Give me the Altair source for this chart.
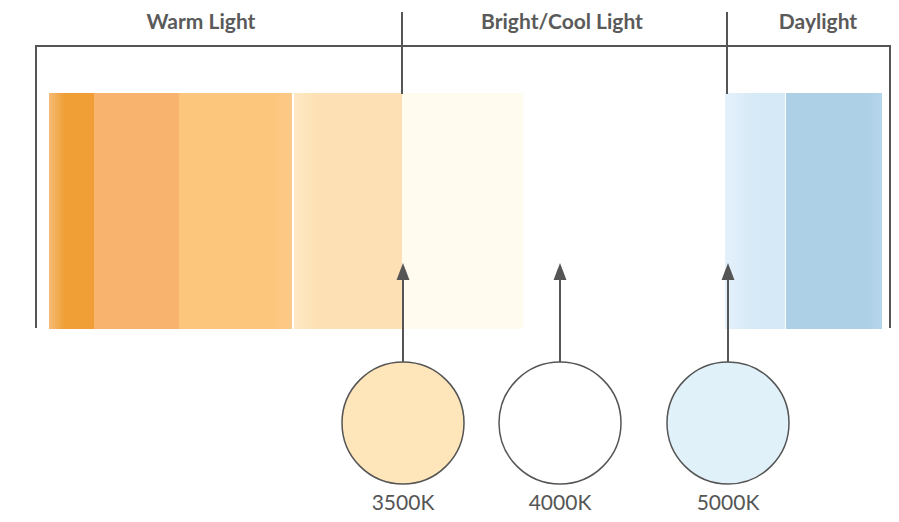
import altair as alt
import pandas as pd

# ---- data (diagram units = pixels) ----
band_x0 = [49, 94, 179, 294, 402, 725, 786]
band_x1 = [94, 179, 292, 402, 523, 785, 882]
band_left = ["#F5BC76", "#F8B46E", "#FCC67D", "#FEE8C4", "#FFFCEF", "#E4F1FB", "#AED0E7"]
band_main = ["#EF9F35", "#F8B46E", "#FCC67D", "#FDE1B4", "#FFFCEF", "#D6E9F6", "#AED0E7"]
band_right = ["#EF9F35", "#F8B46E", "#FCCA88", "#FDE1B4", "#FFFCEF", "#D6E9F6", "#B5D5EA"]
band_split = [0.35, 0.0, 0.85, 0.2, 0.0, 0.5, 0.85]
band_top, band_bottom = 93, 329

group_labels = ["Warm Light", "Bright/Cool Light", "Daylight"]
group_x = [201, 562, 818]
divider_x = [402, 727]

temps = ["3500K", "4000K", "5000K"]
temp_x = [403, 560, 728]
temp_fill = ["#FEE6BA", "#FFFFFF", "#E1F1FA"]

INK = "#555555"
FONT = "Lato"

X = alt.Scale(domain=[8, 891])
Y = alt.Scale(domain=[514, 8])


def xe(f="x"):
    return alt.X(f"{f}:Q", scale=X, axis=None)


def ye(f="y"):
    return alt.Y(f"{f}:Q", scale=Y, axis=None)


layers = []

# colour bands
for i in range(len(band_x0)):
    stops = [alt.GradientStop(color=band_left[i], offset=0)]
    if band_split[i] > 0:
        stops.append(alt.GradientStop(color=band_main[i], offset=band_split[i]))
    stops.append(alt.GradientStop(color=band_right[i], offset=1))
    df = pd.DataFrame({"x": [band_x0[i]], "x2": [band_x1[i]], "y": [band_top], "y2": [band_bottom]})
    layers.append(
        alt.Chart(df).mark_rect(
            fill=alt.LinearGradient(gradient="linear", stops=stops, x1=0, x2=1, y1=0, y2=0),
            strokeWidth=0,
        ).encode(x=xe(), x2="x2:Q", y=ye(), y2="y2:Q")
    )

# bracket and dividers
segs = pd.DataFrame({
    "x": [36, 36, 890] + divider_x,
    "x2": [890, 36, 890] + divider_x,
    "y": [46, 46, 46, 13, 13],
    "y2": [46, 327, 327, 93, 93],
})
layers.append(
    alt.Chart(segs).mark_rule(color=INK, strokeWidth=2, strokeCap="square")
    .encode(x=xe(), x2="x2:Q", y=ye(), y2="y2:Q")
)

# arrows
arr = pd.DataFrame({"x": temp_x, "y": [272] * 3, "y2": [362] * 3, "yh": [271.5] * 3})
layers.append(
    alt.Chart(arr).mark_rule(color=INK, strokeWidth=2)
    .encode(x=xe(), y=ye(), y2="y2:Q")
)
layers.append(
    alt.Chart(arr).mark_point(
        shape="M0,-1L0.76,1L-0.76,1Z", size=289, filled=True, fill=INK, opacity=1
    ).encode(x=xe(), y=ye("yh"))
)

# circles
circ = pd.DataFrame({"x": temp_x, "y": [423] * 3, "fill": temp_fill})
layers.append(
    alt.Chart(circ).mark_point(
        shape="circle", size=122 * 122, filled=True, stroke=INK, strokeWidth=1.5, opacity=1
    ).encode(x=xe(), y=ye(), fill=alt.Fill("fill:N", scale=None))
)

# labels
lab = pd.DataFrame({"x": temp_x, "y": [514] * 3, "label": temps})
layers.append(
    alt.Chart(lab).mark_text(
        font=FONT, fontSize=21, fontWeight="normal", color=INK, baseline="bottom", align="center"
    ).encode(x=xe(), y=ye(), text="label:N")
)
glab = pd.DataFrame({"x": group_x, "y": [29] * 3, "label": group_labels})
layers.append(
    alt.Chart(glab).mark_text(
        font=FONT, fontSize=21, fontWeight="bold", color="#5a5a5a", baseline="alphabetic", align="center"
    ).encode(x=xe(), y=ye(), text="label:N")
)

chart = alt.layer(*layers).properties(
    width=883, height=506, autosize=alt.AutoSizeParams(type="none"), padding=0
).configure_view(stroke=None)

chart.save("out.html", embed_options={"renderer": "svg", "actions": False})
